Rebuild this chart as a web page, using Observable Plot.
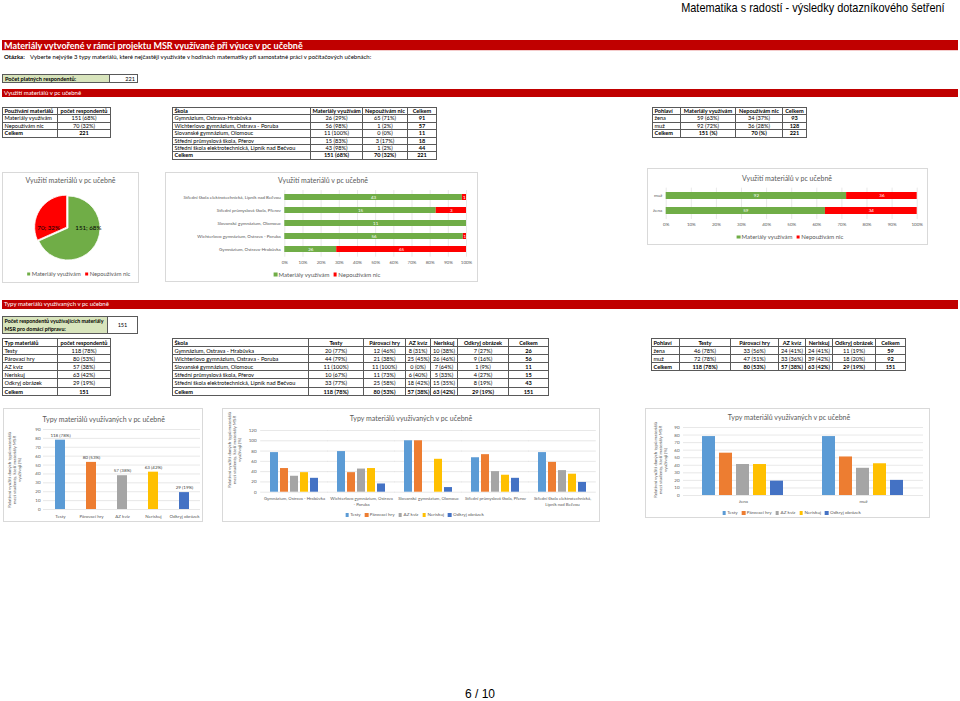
<!DOCTYPE html>
<html lang="cs"><head><meta charset="utf-8">
<script src="https://cdn.jsdelivr.net/npm/d3@7"></script>
<script src="https://cdn.jsdelivr.net/npm/@observablehq/plot@0.6"></script>
<style>
html,body{margin:0;padding:0}
body{width:960px;height:701px;position:relative;background:#fff;font-family:Lato,"Open Sans",sans-serif;overflow:hidden;color:#000}
.a{position:absolute;white-space:nowrap}
.red{position:absolute;left:2px;width:956px;background:#c00000;color:#fff;white-space:nowrap;box-sizing:border-box;padding-left:2px}
table.t{position:absolute;border-collapse:collapse;table-layout:fixed;font-size:5.6px;color:#000}
table.t td{border:0.8px solid #595959;padding:0 1.5px;white-space:nowrap;overflow:hidden;box-sizing:border-box}
.panel{position:absolute;border:1px solid #d9d9d9;box-sizing:border-box;background:#fff}
.ct{position:absolute;color:#595959;white-space:nowrap;transform:translate(-50%,-50%)}
.lg{position:absolute;color:#595959;white-space:nowrap;transform:translate(-50%,-50%)}
.sw{display:inline-block;width:3.5px;height:3.5px;margin:0 1.5px 0 4px;vertical-align:middle}
.yt{position:absolute;color:#595959;font-size:4.5px;line-height:5px;text-align:center;white-space:nowrap;transform:translate(-50%,-50%) rotate(-90deg)}
.chart{position:absolute}
.chart svg{display:block;overflow:visible}
</style></head><body>
<script>
// ---------- DATA ----------
const usageCats = ["Materiály využívám", "Nepoužívám nic"];
const usageCounts = [151, 70];
const usagePct = [68, 32];
const schools = ["Gymnázium, Ostrava-Hrabůvka", "Wichterlovo gymnázium, Ostrava - Poruba", "Slovanské gymnázium, Olomouc", "Střední průmyslová škola, Přerov", "Střední škola elektrotechnická, Lipník nad Bečvou"];
const schoolUse = [26, 56, 11, 15, 43];
const schoolUsePct = [29, 98, 100, 83, 98];
const schoolNot = [65, 1, 0, 3, 1];
const schoolNotPct = [71, 2, 0, 17, 2];
const schoolTotals = [91, 57, 11, 18, 44];
const genders = ["žena", "muž"];
const genderUse = [59, 92];
const genderUsePct = [63, 72];
const genderNot = [34, 36];
const genderNotPct = [37, 28];
const genderTotals = [93, 128];

const types = ["Testy", "Párovací hry", "AZ kvíz", "Neriskuj", "Odkryj obrázek"];
const typeCounts = [118, 80, 57, 63, 29];
const typePct = [78, 53, 38, 42, 19];
const schools2 = ["Gymnázium, Ostrava - Hrabůvka", "Wichterlovo gymnázium, Ostrava - Poruba", "Slovanské gymnázium, Olomouc", "Střední průmyslová škola, Přerov", "Střední škola elektrotechnická, Lipník nad Bečvou"];
const schools2Ticks = ["Gymnázium, Ostrava - Hrabůvka", "Wichterlovo gymnázium, Ostrava\n- Poruba", "Slovanské gymnázium, Olomouc", "Střední průmyslová škola, Přerov", "Střední škola elektrotechnická,\nLipník nad Bečvou"];
const schoolTypeCounts = [[20, 12, 8, 10, 7], [44, 21, 25, 26, 9], [11, 11, 0, 7, 1], [10, 11, 6, 5, 4], [33, 25, 18, 15, 8]];
const schoolTypePct = [[77, 46, 31, 38, 27], [79, 38, 45, 46, 16], [100, 100, 0, 64, 9], [67, 73, 40, 33, 27], [77, 58, 42, 35, 19]];
const schoolTypeTotals = [26, 56, 11, 15, 43];
const genderTypeCounts = [[46, 33, 24, 24, 11], [72, 47, 33, 39, 18]];
const genderTypePct = [[78, 56, 41, 41, 19], [78, 51, 36, 42, 20]];
const genderTypeTotals = [59, 92];
const respondentsTotal = 221;
const respondentsUsing = 151;

const pctTicks = [0, 0.1, 0.2, 0.3, 0.4, 0.5, 0.6, 0.7, 0.8, 0.9, 1];
const ticks90 = [0, 10, 20, 30, 40, 50, 60, 70, 80, 90];
const ticks120 = [0, 20, 40, 60, 80, 100, 120];

const usageColors = ["#70ad47", "#ff0000"];
const typeColors = ["#5b9bd5", "#ed7d31", "#a5a5a5", "#ffc000", "#4472c4"];
const yTitle = "Relativní využití daných typů materiálů<br>mezi studenty, kteří materiály MSR<br>využívají (%)";

// ---------- HELPERS ----------
const B = document.body;
function div(cls, css, html) {
  const d = document.createElement("div");
  d.className = cls;
  d.style.cssText = css;
  d.innerHTML = html || "";
  B.appendChild(d);
  return d;
}
function table(left, top, widths, rowH, rows, boldLastCol) {
  const t = document.createElement("table");
  t.className = "t";
  t.style.left = left + "px"; t.style.top = top + "px";
  t.style.width = d3.sum(widths) + "px";
  const cg = document.createElement("colgroup");
  widths.forEach(w => { const c = document.createElement("col"); c.style.width = w + "px"; cg.appendChild(c); });
  t.appendChild(cg);
  rows.forEach((r, i) => {
    const tr = document.createElement("tr");
    r.forEach((c, j) => {
      const td = document.createElement("td");
      td.textContent = c;
      td.style.height = rowH + "px";
      td.style.lineHeight = (rowH - 1) + "px";
      td.style.textAlign = j === 0 ? "left" : "center";
      if (i === 0 || i === rows.length - 1 || (boldLastCol && j === r.length - 1)) td.style.fontWeight = "bold";
      tr.appendChild(td);
    });
    t.appendChild(tr);
  });
  B.appendChild(t);
}
function place(node, left, top) {
  const d = div("chart", `left:${left}px;top:${top}px`);
  d.appendChild(node);
}
function legend(x, y, names, colors, fs) {
  div("lg", `left:${x}px;top:${y}px;font-size:${fs}px`,
    names.map((n, i) => `<span class="sw" style="background:${colors[i]}"></span>${n}`).join(""));
}
const np = (n, p) => `${n} (${p}%)`;

// ---------- PAGE TEXT ----------
div("a", "right:15px;top:0px;font-family:'Liberation Sans Narrow','Arial Narrow','Liberation Sans',Arial,sans-serif;font-size:13px;color:#000;line-height:15px;transform:scaleX(0.84);transform-origin:right center", "Matematika s radostí - výsledky dotazníkového šetření");
div("red", "top:40px;height:11px;font-size:9px;font-weight:bold;line-height:11px;border-bottom:1px solid #f4cccc", "Materiály vytvořené v rámci projektu MSR využívané při výuce v pc učebně");
div("a", "left:4px;top:54px;font-size:6px;line-height:6px;font-weight:bold", "Otázka:");
div("a", "left:30px;top:54px;font-size:6px;line-height:6px", "Vyberte nejvýše 3 typy materiálů, které nejčastěji využíváte v hodinách matematiky při samostatné práci v počítačových učebnách:");
div("a", "left:2px;top:74px;width:108px;height:9px;background:#d8e4bc;border:0.8px solid #595959;box-sizing:border-box;font-size:5.6px;font-weight:bold;line-height:8px;padding-left:2px", "Počet platných respondentů:");
div("a", "left:110px;top:74px;width:28px;height:9px;border:0.8px solid #595959;border-left:none;box-sizing:border-box;font-size:5.6px;line-height:8px;text-align:right;padding-right:2px", String(respondentsTotal));
div("red", "top:89px;height:8px;font-size:6px;line-height:8px", "Využití materiálů v pc učebně");

// tables section 1
table(2, 107, [55, 53], 7.4, [
  ["Používání materiálů", "počet respondentů"],
  [usageCats[0], np(usageCounts[0], usagePct[0])],
  [usageCats[1], np(usageCounts[1], usagePct[1])],
  ["Celkem", String(d3.sum(usageCounts))]
], false);
table(172, 107, [138, 52, 45, 29], 7.4, [
  ["Škola", "Materiály využívám", "Nepoužívám nic", "Celkem"],
  ...schools.map((s, i) => [s, np(schoolUse[i], schoolUsePct[i]), np(schoolNot[i], schoolNotPct[i]), String(schoolTotals[i])]),
  ["Celkem", np(usageCounts[0], usagePct[0]), np(usageCounts[1], usagePct[1]), String(d3.sum(usageCounts))]
], true);
table(652, 107, [28, 55, 47, 24], 7.4, [
  ["Pohlaví", "Materiály využívám", "Nepoužívám nic", "Celkem"],
  ...genders.map((g, i) => [g, np(genderUse[i], genderUsePct[i]), np(genderNot[i], genderNotPct[i]), String(genderTotals[i])]),
  ["Celkem", usageCounts[0] + " (%)", usageCounts[1] + " (%)", String(d3.sum(usageCounts))]
], true);

// ---------- PANELS ----------
div("panel", "left:2px;top:172px;width:137px;height:111px");
div("panel", "left:165px;top:172px;width:313px;height:110px");
div("panel", "left:647px;top:168px;width:281px;height:77px");
div("panel", "left:3px;top:408px;width:200px;height:114px");
div("panel", "left:222px;top:408px;width:378px;height:114px");
div("panel", "left:645px;top:408px;width:285px;height:110px");

const baseStyle = {fontFamily: "Lato", fontSize: "4.5px", color: "#595959", overflow: "visible", background: "transparent"};

// ---------- CHART 1: PIE ----------
div("ct", "left:70.5px;top:180px;font-size:7px", "Využití materiálů v pc učebně");
const pieData = usageCats.map((c, i) => ({cat: c, value: usageCounts[i], pct: usagePct[i]}));
const pieArcs = d3.pie().sort(null).value(d => d.value)(pieData);
const pieLabels = pieArcs.map(a => {
  const m = (a.startAngle + a.endAngle) / 2;
  return {x: 0.74 * Math.sin(m), y: 0, text: `${a.data.value}; ${a.data.pct}%`};
});
function pieSlices(index, scales) {
  const cx = scales.x(0), cy = scales.y(0), r = scales.x(1) - scales.x(0);
  const g = d3.create("svg:g");
  const arc = d3.arc().innerRadius(0).outerRadius(r);
  pieArcs.forEach((a, i) => {
    const m = (a.startAngle + a.endAngle) / 2;
    const off = i === 1 ? 1.6 : 0;
    g.append("path").attr("d", arc(a)).attr("fill", usageColors[i])
      .attr("stroke", "#fff").attr("stroke-width", 0.8)
      .attr("transform", `translate(${cx + off * Math.sin(m)},${cy - off * Math.cos(m)})`);
  });
  return g.node();
}
const pie = Plot.plot({
  width: 137, height: 76, marginLeft: 34, marginRight: 39, marginTop: 6, marginBottom: 6,
  style: baseStyle,
  x: {domain: [-1, 1], axis: null}, y: {domain: [-1, 1], axis: null},
  marks: [
    pieSlices,
    Plot.text(pieLabels, {x: "x", y: "y", text: "text", fill: "#000", fontSize: 6.2})
  ]
});
place(pie, 2, 190);
legend(76.5, 273, usageCats, usageColors, 5.8);

// ---------- CHART 2: schools stacked ----------
div("ct", "left:323px;top:180px;font-size:7px", "Využití materiálů v pc učebně");
const c2data = schools.flatMap((s, i) => [
  {school: s, series: usageCats[0], value: schoolUse[i]},
  {school: s, series: usageCats[1], value: schoolNot[i]}
]);
const c2 = Plot.plot({
  width: 313, height: 80, marginLeft: 119.3, marginRight: 12, marginTop: 2.07, marginBottom: 11.3,
  style: baseStyle,
  x: {domain: [0, 1]},
  y: {domain: schools.slice().reverse(), paddingInner: 0.55, paddingOuter: 0.3},
  color: {domain: usageCats, range: usageColors},
  marks: [
    Plot.gridX(pctTicks, {stroke: "#d9d9d9", strokeOpacity: 1, strokeWidth: 0.6}),
    Plot.barX(c2data, Plot.stackX({y: "school", x: "value", fill: "series", offset: "normalize"})),
    Plot.text(c2data.filter(d => d.value > 0), Plot.stackX({y: "school", x: "value", text: "value", offset: "normalize", fill: "white", fontSize: 4.5})),
    Plot.axisX(pctTicks, {tickSize: 0, tickPadding: 4, tickFormat: d3.format(".0%"), label: null}),
    Plot.axisY({tickSize: 0, tickPadding: 4, label: null})
  ]
});
place(c2, 165, 188);
legend(325, 273.7, usageCats, usageColors, 6);

// ---------- CHART 3: gender stacked ----------
div("ct", "left:787px;top:178px;font-size:7px", "Využití materiálů v pc učebně");
const c3data = genders.flatMap((g, i) => [
  {g, series: usageCats[0], value: genderUse[i]},
  {g, series: usageCats[1], value: genderNot[i]}
]);
const c3 = Plot.plot({
  width: 281, height: 46, marginLeft: 18.7, marginRight: 11.3, marginTop: 3.67, marginBottom: 10.95,
  style: baseStyle,
  x: {domain: [0, 1]},
  y: {domain: genders.slice().reverse(), paddingInner: 0.55, paddingOuter: 0.3},
  color: {domain: usageCats, range: usageColors},
  marks: [
    Plot.gridX(pctTicks, {stroke: "#d9d9d9", strokeOpacity: 1, strokeWidth: 0.6}),
    Plot.barX(c3data, Plot.stackX({y: "g", x: "value", fill: "series", offset: "normalize"})),
    Plot.text(c3data.filter(d => d.value > 0), Plot.stackX({y: "g", x: "value", text: "value", offset: "normalize", fill: "white", fontSize: 4.5})),
    Plot.axisX(pctTicks, {tickSize: 0, tickPadding: 3, tickFormat: d3.format(".0%"), label: null}),
    Plot.axisY({tickSize: 0, tickPadding: 4, label: null})
  ]
});
place(c3, 647, 184);
legend(788, 236, usageCats, usageColors, 6);

// ---------- SECTION 2 ----------
div("red", "top:300px;height:8.5px;font-size:6px;line-height:8.5px", "Typy materiálů využívaných v pc učebně");
div("a", "left:2px;top:316px;width:106px;height:18px;background:#d8e4bc;border:0.8px solid #595959;box-sizing:border-box;font-size:5.3px;font-weight:bold;line-height:7.5px;padding:1px 1.5px", "Počet respondentů využívajících materiály<br>MSR pro domácí přípravu:");
div("a", "left:108px;top:316px;width:30px;height:18px;border:0.8px solid #595959;border-left:none;box-sizing:border-box;font-size:5.6px;line-height:16px;text-align:center", String(respondentsUsing));

table(2, 338, [55, 53], 8.1, [
  ["Typ materiálů", "počet respondentů"],
  ...types.map((t, i) => [t, np(typeCounts[i], typePct[i])]),
  ["Celkem", String(respondentsUsing)]
], false);
table(172, 338, [136, 55, 42, 25, 27, 51, 40], 8.1, [
  ["Škola", ...types, "Celkem"],
  ...schools2.map((s, i) => [s, ...schoolTypeCounts[i].map((c, j) => np(c, schoolTypePct[i][j])), String(schoolTypeTotals[i])]),
  ["Celkem", ...types.map((t, j) => np(typeCounts[j], typePct[j])), String(respondentsUsing)]
], true);
table(651, 338, [28, 51, 48, 27, 27, 43, 30], 8.1, [
  ["Pohlaví", ...types, "Celkem"],
  ...genders.map((g, i) => [g, ...genderTypeCounts[i].map((c, j) => np(c, genderTypePct[i][j])), String(genderTypeTotals[i])]),
  ["Celkem", ...types.map((t, j) => np(typeCounts[j], typePct[j])), String(respondentsUsing)]
], true);

// ---------- CHART 4: types ----------
div("ct", "left:103.7px;top:419px;font-size:7px", "Typy materiálů využívaných v pc učebně");
div("yt", "left:14px;top:470px", yTitle);
const c4data = types.map((t, i) => ({type: t, pct: typePct[i], label: np(typeCounts[i], typePct[i])}));
const c4 = Plot.plot({
  width: 200, height: 100, marginLeft: 40, marginRight: 3, marginTop: 8, marginBottom: 12,
  style: baseStyle,
  x: {domain: types, paddingInner: 0.68, paddingOuter: 0.34},
  y: {domain: [0, 90]},
  color: {domain: types, range: typeColors},
  marks: [
    Plot.gridY(ticks90, {stroke: "#d9d9d9", strokeOpacity: 1, strokeWidth: 0.6}),
    Plot.barY(c4data, {x: "type", y: "pct", fill: "type"}),
    Plot.text(c4data, {x: "type", y: "pct", text: "label", dy: -5, fill: "#404040", fontSize: 4.5}),
    Plot.axisY(ticks90, {tickSize: 0, tickPadding: 3, label: null}),
    Plot.axisX({tickSize: 0, tickPadding: 5, label: null})
  ]
});
place(c4, 3, 421);

// ---------- CHART 5: schools x types ----------
div("ct", "left:411px;top:418px;font-size:7px", "Typy materiálů využívaných v pc učebně");
div("yt", "left:234px;top:450px", yTitle);
const c5data = schools2.flatMap((s, i) => types.map((t, j) => ({school: s, type: t, pct: schoolTypePct[i][j]})));
const s2tick = new Map(schools2.map((s, i) => [s, schools2Ticks[i]]));
const c5out = 0.13;
const c5 = Plot.plot({
  width: 378, height: 85, marginLeft: 37, marginRight: 3, marginTop: 6, marginBottom: 17.3,
  style: baseStyle,
  fx: {domain: schools2, paddingInner: 2 * c5out, paddingOuter: c5out, label: null},
  x: {domain: types, paddingInner: 0.25, paddingOuter: 0, axis: null},
  y: {domain: [0, 120]},
  color: {domain: types, range: typeColors},
  marks: [
    Plot.gridY(ticks120, {stroke: "#d9d9d9", strokeOpacity: 1, strokeWidth: 0.6, insetLeft: -8.8, insetRight: -8.8}),
    Plot.barY(c5data, {fx: "school", x: "type", y: "pct", fill: "type"}),
    Plot.axisY(ticks120, {tickSize: 0, tickPadding: 13, label: null}),
    Plot.axisFx({anchor: "bottom", tickSize: 0, tickPadding: 3, tickFormat: d => s2tick.get(d), label: null, fontSize: 4.3, lineHeight: 1.45})
  ]
});
place(c5, 222, 424);
legend(412.5, 514, types, typeColors, 4.6);

// ---------- CHART 6: gender x types ----------
div("ct", "left:789px;top:417px;font-size:7px", "Typy materiálů využívaných v pc učebně");
div("yt", "left:660px;top:460px", yTitle);
const c6data = genders.flatMap((g, i) => types.map((t, j) => ({g, type: t, pct: genderTypePct[i][j]})));
const c6 = Plot.plot({
  width: 285, height: 86, marginLeft: 38, marginRight: 7, marginTop: 5, marginBottom: 13,
  style: baseStyle,
  fx: {domain: genders, paddingInner: 0.2834, paddingOuter: 0.1417, label: null},
  x: {domain: types, paddingInner: 0.22, paddingOuter: 0, axis: null},
  y: {domain: [0, 90]},
  color: {domain: types, range: typeColors},
  marks: [
    Plot.gridY(ticks90, {stroke: "#d9d9d9", strokeOpacity: 1, strokeWidth: 0.6, insetLeft: -17, insetRight: -17}),
    Plot.barY(c6data, {fx: "g", x: "type", y: "pct", fill: "type"}),
    Plot.axisY(ticks90, {tickSize: 0, tickPadding: 21, label: null}),
    Plot.axisFx({anchor: "bottom", tickSize: 0, tickPadding: 4, label: null, fontSize: 4.5})
  ]
});
place(c6, 645, 422);
legend(789.5, 512, types, typeColors, 4.6);

// footer
div("a", "left:480px;top:694px;transform:translate(-50%,-50%);font-family:'Liberation Sans',Arial,sans-serif;font-size:12px", "6 / 10");
</script>
</body></html>
